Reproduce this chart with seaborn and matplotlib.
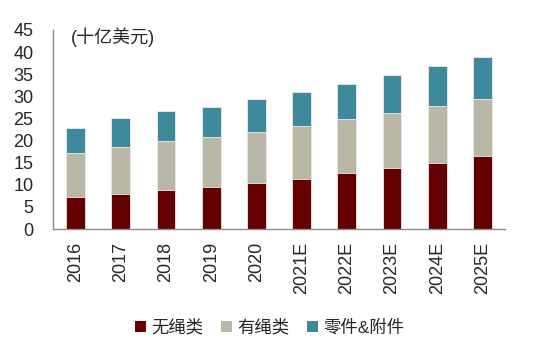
import numpy as np
import pandas as pd
import matplotlib
matplotlib.use("Agg")
import matplotlib.pyplot as plt
import seaborn as sns
from matplotlib.patches import Patch

years = ["2016", "2017", "2018", "2019", "2020", "2021E", "2022E", "2023E", "2024E", "2025E"]
cordless = [7.2, 8.0, 8.9, 9.4, 10.3, 11.4, 12.6, 13.8, 15.0, 16.4]
corded = [9.9, 10.5, 11.1, 11.4, 11.65, 11.85, 12.2, 12.5, 12.8, 13.0]
parts = [5.85, 6.6, 6.6, 6.9, 7.35, 7.75, 8.1, 8.6, 9.0, 9.4]
series_names = ["无绳类", "有绳类", "零件&附件"]
colors = ["#640000", "#B9B8A7", "#3E8A9C"]

sns.set_style("white")
plt.rcParams["font.family"] = ["Liberation Sans", "Noto Sans CJK SC", "DejaVu Sans"]

df = pd.DataFrame({"year": years, "a": cordless, "b": corded, "c": parts})
df["top1"] = df["a"]
df["top2"] = df["a"] + df["b"]
df["top3"] = df["a"] + df["b"] + df["c"]

fig = plt.figure(figsize=(5.5, 3.46), dpi=100)
ax = fig.add_axes([53/550, 1 - 229/346, 452/550, 199/346])

for col, c in zip(["top3", "top2", "top1"], colors[::-1]):
    sns.barplot(data=df, x="year", y=col, color=c, width=0.42, ax=ax,
                edgecolor="#ececec", linewidth=0.6, saturation=1)

ax.set_xlim(-0.5, len(years) - 0.5)
ax.set_ylim(0, 45)
ax.set_yticks(np.arange(0, 46, 5))
ax.set_xlabel("")
ax.set_ylabel("")
for s in ["top", "right"]:
    ax.spines[s].set_visible(False)
for s in ["left", "bottom"]:
    ax.spines[s].set_color("#8c8c8c")
    ax.spines[s].set_linewidth(1.0)

ax.tick_params(axis="y", length=0, pad=14, labelsize=13)
ax.tick_params(axis="x", which="major", length=0, pad=9, labelsize=13, rotation=90)
ax.set_xticks(np.arange(-0.5, len(years), 1.0), minor=True)
ax.tick_params(axis="x", which="minor", length=5, color="#8c8c8c", width=1.0)

fig.text(71/550, 1 - 37/346, "(十亿美元)", fontsize=13, va="center", ha="left")

handles = [Patch(facecolor=c, edgecolor="none") for c in colors]
fig.legend(handles, series_names, loc="center", bbox_to_anchor=(270/550, 1 - 327/346),
           ncol=3, frameon=False, fontsize=12.5, handlelength=0.6, handleheight=0.6,
           handletextpad=0.35, columnspacing=1.0)

fig.savefig("out.png", dpi=100)
